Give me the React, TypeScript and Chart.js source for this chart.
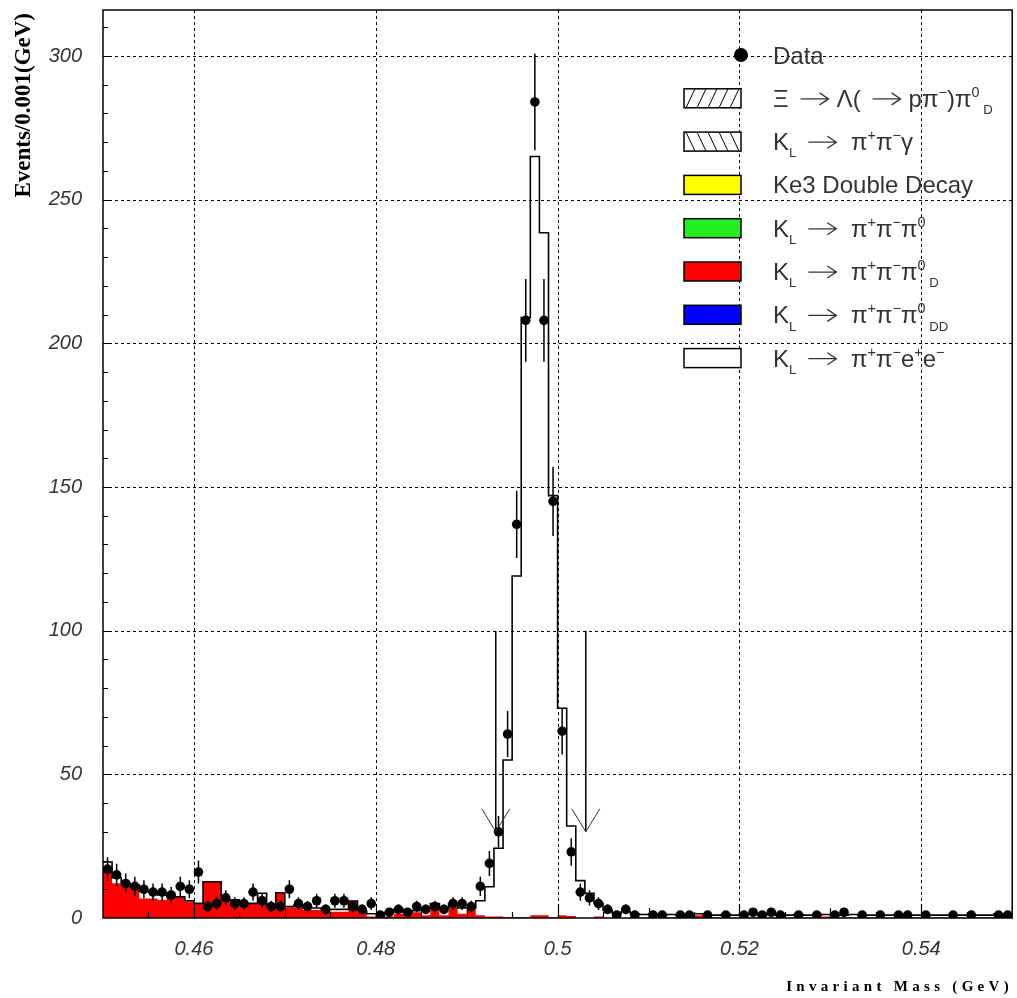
import React, { useEffect, useRef } from 'react';
import { Chart, registerables } from 'chart.js';

Chart.register(...registerables);

// ---------- axis / binning ----------
const X_MIN = 0.45;
const X_MAX = 0.55;
const BIN_WIDTH = 0.001;
const Y_MIN = 0;
const Y_MAX = 316;
const xLabelTicks = [0.46, 0.48, 0.5, 0.52, 0.54];
const yLabelTicks = [0, 50, 100, 150, 200, 250, 300];

// ---------- data: events per 0.001 GeV bin, 100 bins from 0.450 to 0.550 ----------
const dataCounts = [
  17, 15, 12, 11, 10, 9, 9, 8, 11, 10,
  16, 4, 5, 7, 5, 5, 9, 6, 4, 4,
  10, 5, 4, 6, 3, 6, 6, 4, 3, 5,
  1, 2, 3, 2, 4, 3, 4, 3, 5, 5,
  4, 11, 19, 30, 64, 137, 208, 284, 208, 145,
  65, 23, 9, 7, 5, 3, 1, 3, 1, 0,
  1, 1, 0, 1, 1, 0, 1, 0, 1, 0,
  1, 2, 1, 2, 1, 0, 1, 0, 1, 0,
  1, 2, 0, 1, 0, 1, 0, 1, 1, 0,
  1, 0, 0, 1, 0, 1, 0, 0, 1, 1,
];

// total Monte Carlo (stacked sum, outline histogram)
const mcTotal = [
  19.5, 14, 12, 11.5, 9.2, 9.2, 8, 7.4, 7.4, 6,
  5.1, 12.6, 12.6, 6.3, 6.3, 5.1, 5.1, 8.6, 4, 8.8,
  4, 4.5, 3.5, 3.5, 3, 3, 3, 5.9, 2.5, 1.5,
  1.5, 2, 3, 2, 2.5, 3.5, 5, 3.5, 5, 3.5,
  3.5, 6, 10.9, 24.3, 55, 119, 209, 265, 238.5, 147,
  73, 32, 13, 8.6, 5.1, 2.8, 1.6, 2.2, 1.5, 1.2,
  1.5, 1, 1.2, 1, 1.5, 1.5, 1, 1, 1.2, 1,
  1.5, 1.5, 1, 1.5, 1, 1, 1.2, 1, 1, 1.2,
  1, 1, 1.2, 1, 1, 1, 1, 1.2, 1, 1,
  1, 1, 1, 1, 1, 1, 1, 1, 1.5, 1.5,
];

// K_L -> pi+ pi- pi0_D component (red)
const mcPi0Dalitz = [
  17.9, 12.1, 11.5, 11.5, 6.8, 6.8, 6.3, 7.4, 7.4, 5.7,
  5.1, 12.6, 12.6, 6.3, 6.3, 5.1, 5.1, 7.4, 3.7, 8.8,
  3.7, 3.7, 2.8, 2.8, 2.8, 2.2, 2.2, 5.9, 2, 0.5,
  0.5, 0.5, 1.5, 1.5, 2, 1, 3.7, 1, 3.7, 1.5,
  3.5, 1, 0.5, 0.5, 0.3, 0.3, 0.3, 1, 1, 0.3,
  1, 0.7, 0, 0, 0.5, 0, 0, 0, 0.2, 0.2,
  0.2, 0.2, 0.2, 0.2, 1.5, 1, 0.2, 0.2, 0.2, 0.2,
  0.2, 0.2, 0.2, 0.2, 0.2, 0.2, 0.2, 0.2, 0.2, 0.5,
  0.2, 0.2, 0.2, 0.2, 0.2, 0.2, 0.2, 0.2, 0.2, 0.2,
  0.2, 0.2, 0.2, 0.2, 0.2, 0.2, 0.2, 0.2, 0.5, 0.5,
];

// mass-window cut arrows
const cutPositions = [0.4932, 0.5031];
const cutArrowTop = 100;
const cutArrowTip = 30;

// ---------- legend ----------
type Part = [string, 'n' | 'sup' | 'sub' | 'arrow'];
const legendEntries: { kind: string; color: string; parts: Part[] }[] = [
  { kind: 'marker', color: '#000000', parts: [['Data', 'n']] },
  {
    kind: 'hatchF', color: '#ffffff',
    parts: [['\u039E', 'n'], ['', 'arrow'], ['\u039B(', 'n'], ['', 'arrow'], ['p\u03C0', 'n'], ['\u2212', 'sup'], [')\u03C0', 'n'], ['0', 'sup'], [' D', 'sub']],
  },
  {
    kind: 'hatchB', color: '#ffffff',
    parts: [['K', 'n'], ['L', 'sub'], ['', 'arrow'], [' \u03C0', 'n'], ['+', 'sup'], ['\u03C0', 'n'], ['\u2212', 'sup'], ['\u03B3', 'n']],
  },
  { kind: 'fill', color: '#ffff00', parts: [['Ke3 Double Decay', 'n']] },
  {
    kind: 'fill', color: '#22ee22',
    parts: [['K', 'n'], ['L', 'sub'], ['', 'arrow'], [' \u03C0', 'n'], ['+', 'sup'], ['\u03C0', 'n'], ['\u2212', 'sup'], ['\u03C0', 'n'], ['0', 'sup']],
  },
  {
    kind: 'fill', color: '#ff0000',
    parts: [['K', 'n'], ['L', 'sub'], ['', 'arrow'], [' \u03C0', 'n'], ['+', 'sup'], ['\u03C0', 'n'], ['\u2212', 'sup'], ['\u03C0', 'n'], ['0', 'sup'], [' D', 'sub']],
  },
  {
    kind: 'fill', color: '#0000ff',
    parts: [['K', 'n'], ['L', 'sub'], ['', 'arrow'], [' \u03C0', 'n'], ['+', 'sup'], ['\u03C0', 'n'], ['\u2212', 'sup'], ['\u03C0', 'n'], ['0', 'sup'], [' DD', 'sub']],
  },
  {
    kind: 'fill', color: '#ffffff',
    parts: [['K', 'n'], ['L', 'sub'], ['', 'arrow'], [' \u03C0', 'n'], ['+', 'sup'], ['\u03C0', 'n'], ['\u2212', 'sup'], ['e', 'n'], ['+', 'sup'], ['e', 'n'], ['\u2212', 'sup']],
  },
];

const X_TITLE = 'Invariant Mass (GeV)';
const Y_TITLE = 'Events/0.001(GeV)';

// ---------- helpers ----------
const stepPoints = (arr: number[]) =>
  arr
    .map((v, i) => ({ x: X_MIN + i * BIN_WIDTH, y: v }))
    .concat([{ x: X_MAX, y: arr[arr.length - 1] }]);

const dataPoints = dataCounts
  .map((v, i) => ({ x: X_MIN + (i + 0.5) * BIN_WIDTH, y: v }))
  .filter((p) => p.y > 0);

const LEGEND_FONT = '"Liberation Sans", Arial, sans-serif';

function drawRich(ctx: CanvasRenderingContext2D, x: number, y: number, parts: Part[], size: number) {
  let cx = x;
  for (const [t, m] of parts) {
    if (m === 'arrow') {
      const ay = y - size * 0.33;
      const x0 = cx + 12;
      const x1 = x0 + 28;
      ctx.save();
      ctx.strokeStyle = '#333';
      ctx.lineWidth = 1.3;
      ctx.beginPath();
      ctx.moveTo(x0, ay);
      ctx.lineTo(x1, ay);
      ctx.moveTo(x1 - 9, ay - 6);
      ctx.lineTo(x1, ay);
      ctx.lineTo(x1 - 9, ay + 6);
      ctx.stroke();
      ctx.restore();
      cx = x1 + 8;
      continue;
    }
    let s = size;
    let dy = 0;
    if (m === 'sup') {
      s = size * 0.6;
      dy = -size * 0.42;
    } else if (m === 'sub') {
      s = size * 0.55;
      dy = size * 0.3;
    }
    ctx.font = `${s}px ${LEGEND_FONT}`;
    ctx.fillText(t, cx, y + dy);
    cx += ctx.measureText(t).width;
  }
}

const decorPlugin = {
  id: 'decor',
  beforeDatasetsDraw(chart: any) {
    const { ctx, chartArea: a, scales } = chart;
    const x = scales.x;
    const y = scales.y;
    ctx.save();
    ctx.strokeStyle = '#000';
    ctx.lineWidth = 1;
    ctx.setLineDash([3, 3]);
    ctx.beginPath();
    for (const v of xLabelTicks) {
      const px = Math.round(x.getPixelForValue(v)) + 0.5;
      ctx.moveTo(px, a.top);
      ctx.lineTo(px, a.bottom);
    }
    for (const v of yLabelTicks) {
      if (v <= Y_MIN) continue;
      const py = Math.round(y.getPixelForValue(v)) + 0.5;
      ctx.moveTo(a.left, py);
      ctx.lineTo(a.right, py);
    }
    ctx.stroke();
    ctx.restore();
  },
  afterDatasetsDraw(chart: any) {
    const { ctx, chartArea: a, scales } = chart;
    const x = scales.x;
    const y = scales.y;
    ctx.save();

    // error bars
    ctx.strokeStyle = '#000';
    ctx.lineWidth = 1.5;
    ctx.beginPath();
    dataCounts.forEach((v, i) => {
      if (v <= 0) return;
      const err = Math.sqrt(v);
      const px = x.getPixelForValue(X_MIN + (i + 0.5) * BIN_WIDTH);
      ctx.moveTo(px, y.getPixelForValue(v + err));
      ctx.lineTo(px, y.getPixelForValue(Math.max(0, v - err)));
    });
    ctx.stroke();

    // cut arrows
    for (const c of cutPositions) {
      const px = x.getPixelForValue(c);
      const pt = y.getPixelForValue(cutArrowTop);
      const pb = y.getPixelForValue(cutArrowTip);
      ctx.lineWidth = 1.5;
      ctx.strokeStyle = '#000';
      ctx.beginPath();
      ctx.moveTo(px, pt);
      ctx.lineTo(px, pb);
      ctx.stroke();
      ctx.lineWidth = 1;
      ctx.strokeStyle = '#333';
      ctx.beginPath();
      ctx.moveTo(px - 14, pb - 23);
      ctx.lineTo(px, pb);
      ctx.lineTo(px + 14, pb - 23);
      ctx.stroke();
    }

    // frame
    ctx.strokeStyle = '#000';
    ctx.lineWidth = 1.5;
    ctx.strokeRect(a.left, a.top, a.right - a.left, a.bottom - a.top);

    // inner tick marks
    ctx.lineWidth = 1.2;
    ctx.beginPath();
    for (let k = 1; k < 20; k++) {
      const v = X_MIN + k * 0.005;
      const len = k % 4 === 2 ? 14 : k % 2 === 0 ? 10 : 6;
      const px = Math.round(x.getPixelForValue(v)) + 0.5;
      ctx.moveTo(px, a.bottom);
      ctx.lineTo(px, a.bottom - len);
    }
    for (let v = 10; v < Y_MAX; v += 10) {
      const len = v % 50 === 0 ? 9 : 5;
      const py = Math.round(y.getPixelForValue(v)) + 0.5;
      ctx.moveTo(a.left, py);
      ctx.lineTo(a.left + len, py);
    }
    ctx.stroke();

    // legend
    const boxL = 684;
    const boxR = 741;
    const textX = 773;
    const rowY0 = 55;
    const rowStep = 43.3;
    const fs = 24;
    ctx.textBaseline = 'alphabetic';
    ctx.textAlign = 'left';
    legendEntries.forEach((e, i) => {
      const cy = rowY0 + i * rowStep;
      if (e.kind === 'marker') {
        ctx.fillStyle = '#000';
        ctx.beginPath();
        ctx.arc(boxR, cy, 7, 0, Math.PI * 2);
        ctx.fill();
      } else {
        const top = cy - 9.5;
        const h = 19;
        ctx.fillStyle = e.color;
        ctx.fillRect(boxL, top, boxR - boxL, h);
        if (e.kind === 'hatchF' || e.kind === 'hatchB') {
          ctx.save();
          ctx.beginPath();
          ctx.rect(boxL, top, boxR - boxL, h);
          ctx.clip();
          ctx.strokeStyle = '#000';
          ctx.lineWidth = 1;
          ctx.beginPath();
          for (let hx = boxL - 20; hx < boxR + 20; hx += 11) {
            if (e.kind === 'hatchF') {
              ctx.moveTo(hx, top + h);
              ctx.lineTo(hx + 9, top);
            } else {
              ctx.moveTo(hx, top);
              ctx.lineTo(hx + 9, top + h);
            }
          }
          ctx.stroke();
          ctx.restore();
        }
        ctx.strokeStyle = '#000';
        ctx.lineWidth = 1.5;
        ctx.strokeRect(boxL, top, boxR - boxL, h);
      }
      ctx.fillStyle = '#333';
      drawRich(ctx, textX, cy + 8.5, e.parts, fs);
    });

    // axis titles
    ctx.fillStyle = '#000';
    ctx.font = 'bold 15px "Liberation Serif", "Times New Roman", serif';
    (ctx as any).letterSpacing = '4.3px';
    ctx.textAlign = 'right';
    ctx.textBaseline = 'alphabetic';
    ctx.fillText(X_TITLE, 1013, 991);
    (ctx as any).letterSpacing = '0px';

    ctx.save();
    ctx.translate(24, 13);
    ctx.rotate(-Math.PI / 2);
    ctx.font = 'bold 23px "Liberation Serif", "Times New Roman", serif';
    ctx.textAlign = 'right';
    ctx.textBaseline = 'middle';
    ctx.fillText(Y_TITLE, 0, 0);
    ctx.restore();

    ctx.restore();
  },
};

export default function App() {
  const ref = useRef<HTMLCanvasElement | null>(null);

  useEffect(() => {
    document.body.style.margin = '0';
    const canvas = ref.current;
    if (!canvas) return;
    const tickFont = { family: '"Liberation Sans", Arial, sans-serif', size: 20, style: 'italic' as const };
    const chart = new Chart(canvas, {
      type: 'line',
      data: {
        datasets: [
          {
            label: 'Data',
            data: dataPoints,
            showLine: false,
            pointRadius: 4.8,
            pointHoverRadius: 4.8,
            pointBackgroundColor: '#000',
            pointBorderColor: '#000',
            pointBorderWidth: 0,
            order: 0,
          },
          {
            label: 'K_L -> pi+ pi- e+ e- (total)',
            data: stepPoints(mcTotal),
            stepped: true,
            borderColor: '#000',
            borderWidth: 1.6,
            pointRadius: 0,
            fill: false,
            order: 1,
          },
          {
            label: 'K_L -> pi+ pi- pi0_D',
            data: stepPoints(mcPi0Dalitz),
            stepped: true,
            borderColor: 'rgba(0,0,0,0)',
            borderWidth: 0,
            backgroundColor: '#ff0000',
            pointRadius: 0,
            fill: 'origin',
            order: 2,
          },
        ],
      },
      options: {
        animation: false,
        responsive: false,
        events: [],
        layout: { padding: { top: 10, right: 4, left: 0, bottom: 0 } },
        plugins: { legend: { display: false }, tooltip: { enabled: false } },
        scales: {
          x: {
            type: 'linear',
            min: X_MIN,
            max: X_MAX,
            grid: { display: false },
            border: { display: false },
            afterBuildTicks: (s: any) => {
              s.ticks = xLabelTicks.map((v) => ({ value: v }));
            },
            afterFit: (s: any) => {
              s.height = 80;
              s.paddingLeft = 0;
              s.paddingRight = 0;
            },
            ticks: {
              autoSkip: false,
              maxRotation: 0,
              padding: 11,
              color: '#333',
              font: tickFont,
              callback: (v: any) => Number(v).toFixed(2).replace(/0$/, ''),
            },
          },
          y: {
            type: 'linear',
            min: Y_MIN,
            max: Y_MAX,
            grid: { display: false },
            border: { display: false },
            afterBuildTicks: (s: any) => {
              s.ticks = yLabelTicks.map((v) => ({ value: v }));
            },
            afterFit: (s: any) => {
              s.width = 103;
              s.paddingTop = 0;
              s.paddingBottom = 0;
            },
            ticks: {
              autoSkip: false,
              padding: 13,
              color: '#333',
              font: tickFont,
              callback: (v: any) => String(v),
            },
          },
        },
      },
      plugins: [decorPlugin],
    });
    return () => chart.destroy();
  }, []);

  return <canvas ref={ref} width={1017} height={998} style={{ display: 'block' }} />;
}
